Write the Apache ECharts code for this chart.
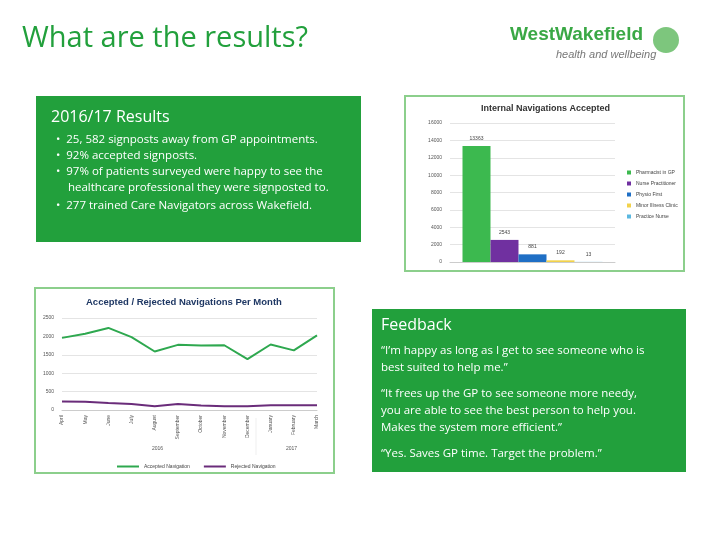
<!DOCTYPE html>
<html><head><meta charset="utf-8">
<script src="https://cdn.jsdelivr.net/npm/echarts@6/dist/echarts.min.js"></script>
<style>html,body{margin:0;padding:0;background:#fff}#c{width:720px;height:540px}</style>
</head><body><div id="c"></div>
<script>
const barCats = ['Pharmacist in GP','Nurse Practitioner','Physio First','Minor Illness Clinic','Practice Nurse'];
const barVals = [13363, 2543, 881, 192, 13];
const barColors = ['#3cb94f','#7030a0','#1f6fc5','#f2d24b','#5bb8e0'];
const months = ['April','May','June','July','August','September','October','November','December','January','February','March'];
const accepted = [1960, 2070, 2230, 1980, 1590, 1770, 1750, 1760, 1380, 1780, 1620, 2030];
const rejected = [230, 225, 190, 160, 100, 160, 120, 100, 100, 130, 130, 130];
const bullets = ['25, 582 signposts away from GP appointments.','92% accepted signposts.','97% of patients surveyed were happy to see the','healthcare professional they were signposted to.','277 trained Care Navigators across Wakefield.'];
const feedback = ['“I’m happy as long as I get to see someone who is','best suited to help me.”','“It frees up the GP to see someone more needy,','you are able to see the best person to help you.','Makes the system more efficient.”','“Yes. Saves GP time. Target the problem.”'];
const GREEN = '#22a03c';
const F = 'Liberation Sans';

const chart = echarts.init(document.getElementById('c'));
const small = {fontSize:5, color:'#555', fontFamily:F};
const barSeries = barCats.map((c,i)=>({
  name:c, type:'bar', xAxisIndex:0, yAxisIndex:0, barWidth:28, barGap:'0%',
  data:[barVals[i]], itemStyle:{color:barColors[i]},
  label:{show:true, position:'top', fontSize:5, color:'#444'}
}));
const bulletText = [
  {t:'•  '+bullets[0], y:141},{t:'•  '+bullets[1], y:157},{t:'•  '+bullets[2], y:173},
  {t:'    '+bullets[3], y:189},{t:'•  '+bullets[4], y:207}
];
const fbY = [353, 370, 396, 413, 430, 456];
chart.setOption({
  animation:false,
  textStyle:{fontFamily:F},
  graphic:[
    {type:'text', left:22, top:24, style:{text:'What are the results?', fontSize:29, fill:GREEN, fontFamily:'Open Sans'}},
    {type:'text', left:510, top:25, style:{text:'WestWakefield', fontSize:19, fontWeight:'bold', fill:'#3aa845', fontFamily:F}},
    {type:'text', left:556, top:49, style:{text:'health and wellbeing', fontSize:11, fontStyle:'italic', fill:'#777', fontFamily:F}},
    {type:'circle', shape:{cx:666,cy:40,r:13}, style:{fill:'#5cb85c', opacity:0.8}},
    {type:'rect', shape:{x:36,y:96,width:325,height:146}, style:{fill:GREEN}},
    {type:'text', left:51, top:109, style:{text:'2016/17 Results', fontSize:16, fill:'#fff', fontFamily:'Open Sans'}},
    ...bulletText.map(b=>({type:'text', left:56, top:b.y-7, style:{text:b.t, fontSize:11.5, fill:'#fff', fontFamily:'Open Sans'}})),
    {type:'rect', shape:{x:405,y:96,width:279,height:175}, style:{fill:'#fff', stroke:'#8ccf8c', lineWidth:2}},
    {type:'text', left:481, top:104, style:{text:'Internal Navigations Accepted', fontSize:9, fontWeight:'bold', fill:'#333', fontFamily:F}},
    {type:'rect', shape:{x:35,y:288,width:299,height:185}, style:{fill:'#fff', stroke:'#8ccf8c', lineWidth:2}},
    {type:'text', left:86, top:297, style:{text:'Accepted / Rejected Navigations Per Month', fontSize:9.5, fontWeight:'bold', fill:'#1f3864', fontFamily:F}},
    {type:'text', left:152, top:446, style:{text:'2016', fontSize:5, fill:'#555'}},
    {type:'text', left:286, top:446, style:{text:'2017', fontSize:5, fill:'#555'}},
    {type:'line', shape:{x1:256,y1:418,x2:256,y2:455}, style:{stroke:'#ddd', lineWidth:0.5}},
    {type:'rect', shape:{x:372,y:309,width:314,height:163}, style:{fill:GREEN}},
    {type:'text', left:381, top:317, style:{text:'Feedback', fontSize:16, fill:'#fff', fontFamily:'Open Sans'}},
    ...feedback.map((t,i)=>({type:'text', left:381, top:fbY[i]-8, style:{text:t, fontSize:11.5, fill:'#fff', fontFamily:'Open Sans'}}))
  ],
  legend:[
    {data:barCats, orient:'vertical', left:622, top:165, itemWidth:4, itemHeight:4, itemGap:6, textStyle:{fontSize:5, color:'#444'}, icon:'rect'},
    {data:['Accepted Navigation','Rejected Navigation'], left:112, top:459, itemWidth:22, itemHeight:2, itemGap:14, textStyle:{fontSize:5, color:'#444'}, icon:'rect'}
  ],
  grid:[
    {left:450, top:123, width:165, height:139},
    {left:62, top:318, width:255, height:92}
  ],
  xAxis:[
    {gridIndex:0, type:'category', data:[''], axisLine:{lineStyle:{color:'#ccc'}}, axisTick:{show:false}, axisLabel:{show:false}},
    {gridIndex:1, type:'category', data:months, boundaryGap:false, axisLine:{lineStyle:{color:'#ccc'}}, axisTick:{show:false}, axisLabel:{rotate:90, fontSize:5, color:'#555', margin:5, interval:0}}
  ],
  yAxis:[
    {gridIndex:0, min:0, max:16000, interval:2000, axisLabel:{...small, formatter:v=>String(v)}, splitLine:{lineStyle:{color:'#e4e4e4'}}},
    {gridIndex:1, min:0, max:2500, interval:500, axisLabel:{...small, formatter:v=>String(v)}, splitLine:{lineStyle:{color:'#e4e4e4'}}}
  ],
  series:[
    ...barSeries,
    {name:'Accepted Navigation', type:'line', xAxisIndex:1, yAxisIndex:1, data:accepted, symbol:'none', lineStyle:{color:'#2ea84f', width:2}, itemStyle:{color:'#2ea84f'}},
    {name:'Rejected Navigation', type:'line', xAxisIndex:1, yAxisIndex:1, data:rejected, symbol:'none', lineStyle:{color:'#6a2c7a', width:2}, itemStyle:{color:'#6a2c7a'}}
  ]
});
</script></body></html>
